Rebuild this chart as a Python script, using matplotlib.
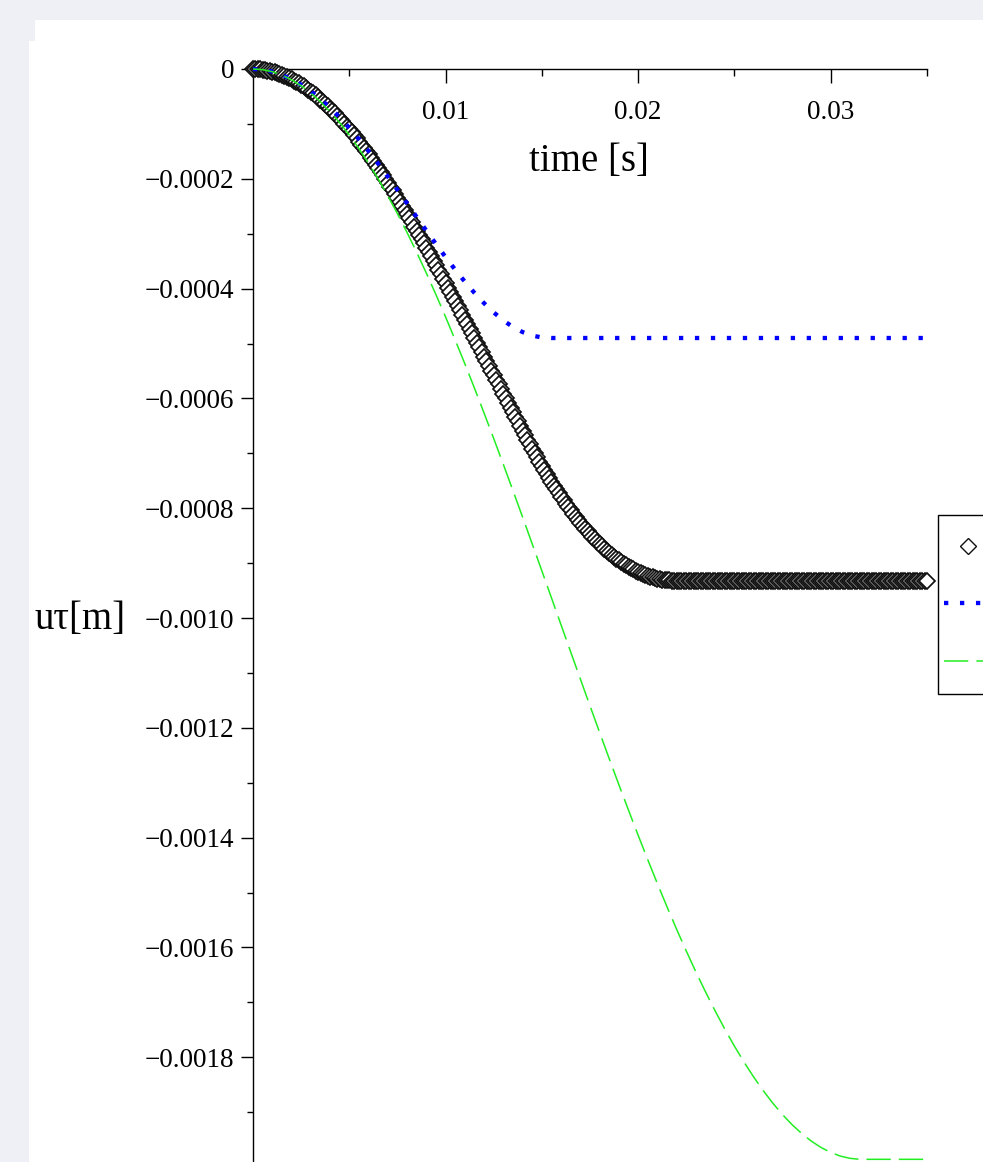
import numpy as np
import matplotlib
matplotlib.use("Agg")
import matplotlib.pyplot as plt
from matplotlib.patches import Rectangle
from matplotlib.lines import Line2D
from matplotlib.ticker import FixedLocator, FixedFormatter

plt.rcParams['font.family'] = ['Liberation Serif', 'DejaVu Serif']
plt.rcParams['lines.scale_dashes'] = False
plt.rcParams['axes.unicode_minus'] = True

# ---------------- data (displacement in micrometres) ----------------
black_dt = 0.000125   # s, sample step of the diamond series
black_um = [
    0, -0.1, -0.3, -0.7, -1.2, -1.9, -2.8, -3.7, -4.8, -6.1,
    -7.5, -9.0, -10.6, -12.4, -14.4, -16.4, -18.6, -21.0, -23.5, -26.1,
    -28.8, -31.7, -34.8, -37.9, -41.2, -44.6, -48.2, -51.8, -55.6, -59.5,
    -63.6, -67.7, -72.0, -76.4, -80.9, -85.5, -90.2, -95.0, -100.0, -105.0,
    -110.2, -115.5, -120.9, -126.5, -132.1, -137.8, -143.6, -149.6, -155.6, -161.8,
    -168.0, -174.4, -180.8, -187.3, -193.9, -200.6, -207.4, -214.3, -221.2, -228.2,
    -235.3, -242.5, -249.7, -257.0, -264.4, -271.8, -279.3, -286.9, -294.5, -302.2,
    -309.9, -317.7, -325.6, -333.5, -341.5, -349.5, -357.5, -365.6, -373.7, -381.8,
    -390.0, -398.2, -406.4, -414.7, -423.0, -431.3, -439.7, -448.0, -456.4, -464.8,
    -473.2, -481.6, -490.1, -498.5, -507.0, -515.4, -523.9, -532.3, -540.8, -549.2,
    -557.7, -566.1, -574.6, -583.0, -591.5, -599.9, -608.4, -616.8, -625.2, -633.6,
    -642.0, -650.3, -658.7, -667.0, -675.4, -683.6, -691.9, -699.7, -707.6, -715.2,
    -722.9, -730.3, -737.8, -744.9, -752.1, -759.0, -765.9, -772.5, -779.2, -785.5,
    -791.9, -798.0, -804.1, -809.9, -815.7, -821.2, -826.7, -831.9, -837.2, -842.2,
    -847.2, -851.9, -856.6, -861.0, -865.4, -869.5, -873.7, -877.5, -881.4, -884.9,
    -888.5, -891.8, -895.1, -898.1, -901.2, -903.9, -906.7, -909.1, -911.6, -913.8,
    -916.0, -917.9, -919.8, -921.4, -923.1, -924.5, -925.9, -927.0, -928.1, -929.0,
    -929.9, -930.5, -931.2, -931.6, -932.1, -932.3, -932.6, -932.7, -932.9, -932.9,
    -933.0,
    -933.0, -933.0, -933.0, -933.0, -933.0, -933.0, -933.0, -933.0, -933.0, -933.0,
    -933.0, -933.0, -933.0, -933.0, -933.0, -933.0, -933.0, -933.0, -933.0, -933.0,
    -933.0, -933.0, -933.0, -933.0, -933.0, -933.0, -933.0, -933.0, -933.0, -933.0,
    -933.0, -933.0, -933.0, -933.0, -933.0, -933.0, -933.0, -933.0, -933.0, -933.0,
    -933.0, -933.0, -933.0, -933.0, -933.0, -933.0, -933.0, -933.0, -933.0, -933.0,
    -933.0, -933.0, -933.0, -933.0, -933.0, -933.0, -933.0, -933.0, -933.0, -933.0,
    -933.0, -933.0, -933.0, -933.0, -933.0, -933.0, -933.0, -933.0, -933.0, -933.0,
    -933.0, -933.0, -933.0, -933.0, -933.0, -933.0, -933.0, -933.0, -933.0, -933.0,
    -933.0, -933.0, -933.0, -933.0, -933.0, -933.0, -933.0, -933.0, -933.0, -933.0,
    -933.0, -933.0, -933.0, -933.0, -933.0, -933.0, -933.0, -933.0, -933.0, -933.0,
]

blue_dt = 0.0005
blue_um = [
    0, -1.2, -4.8, -10.6, -18.6, -28.6, -40.6, -54.6, -70.4, -88.0,
    -107.2, -127.8, -149.6, -172.4, -196.0, -220.2, -244.8, -269.6, -294.4, -318.8,
    -342.6, -365.6, -387.4, -407.8, -426.6, -443.4, -458.0, -470.0, -479.2, -485.6,
    -489.0, -490.0,
    -490.0, -490.0, -490.0, -490.0, -490.0, -490.0, -490.0, -490.0, -490.0, -490.0,
    -490.0, -490.0, -490.0, -490.0, -490.0, -490.0, -490.0, -490.0, -490.0, -490.0,
    -490.0, -490.0, -490.0, -490.0, -490.0, -490.0, -490.0, -490.0, -490.0, -490.0,
    -490.0, -490.0, -490.0, -490.0, -490.0, -490.0, -490.0, -490.0, -490.0,
]

green_dt = 0.0005
green_um = [
    0, -1.2, -4.9, -11.0, -19.6, -30.5, -43.8, -59.5, -77.5, -97.7,
    -120.2, -144.8, -171.5, -200.2, -230.9, -263.5, -297.9, -334.0, -371.7, -411.0,
    -451.6, -493.7, -536.9, -581.3, -626.8, -673.1, -720.2, -768.0, -816.3, -865.1,
    -914.1, -963.4, -1012.8, -1062.1, -1111.2, -1160.1, -1208.5, -1256.4, -1303.7, -1350.1,
    -1395.7, -1440.3, -1483.8, -1526.1, -1567.1, -1606.6, -1644.7, -1681.1, -1715.8, -1748.8,
    -1779.8, -1809.0, -1836.1, -1861.1, -1884.0, -1904.7, -1923.1, -1939.2, -1953.0, -1964.5,
    -1973.5, -1980.1, -1984.2, -1986.0,
    -1986.0, -1986.0, -1986.0, -1986.0, -1986.0, -1986.0, -1986.0,
]

x_major = [0.01, 0.02, 0.03]
x_major_labels = ["0.01", "0.02", "0.03"]
x_minor = [0.005, 0.015, 0.025, 0.035]
y_major = [0, -0.0002, -0.0004, -0.0006, -0.0008, -0.0010, -0.0012, -0.0014, -0.0016, -0.0018]
y_major_labels = ["0", "\u22120.0002", "\u22120.0004", "\u22120.0006", "\u22120.0008",
                  "\u22120.0010", "\u22120.0012", "\u22120.0014", "\u22120.0016", "\u22120.0018"]
y_minor = [-0.0001, -0.0003, -0.0005, -0.0007, -0.0009, -0.0011, -0.0013, -0.0015,
           -0.0017, -0.0019]

# ---------------- styles ----------------
BLACK_STYLE = dict(linestyle="none", marker="D", markersize=7.9, markerfacecolor="white",
                   markeredgecolor="#111111", markeredgewidth=1.25)
BLUE_STYLE = dict(color="#0000ff", linewidth=3.1, linestyle=(0, (3.1, 8.4)),
                  dash_capstyle="butt")
GREEN_STYLE = dict(color="#22ee22", linewidth=1.1, linestyle=(0, (17.5, 5.8)))

# ---------------- figure ----------------
W, H = 983, 1162
fig = plt.figure(figsize=(W / 100, H / 100), dpi=100, facecolor="#eef0f5")
fig.add_artist(Rectangle((35 / W, 0), 1, (H - 20) / H, transform=fig.transFigure,
                         facecolor="white", edgecolor="none", zorder=0))
fig.add_artist(Rectangle((29 / W, 0), 1, (H - 41) / H, transform=fig.transFigure,
                         facecolor="white", edgecolor="none", zorder=0))

ax_left, ax_right, ax_top = 253, 927, 69
ax = fig.add_axes([ax_left / W, 0, (ax_right - ax_left) / W, (H - ax_top) / H])
ax.set_facecolor("none")

t_black = np.arange(len(black_um)) * black_dt
t_blue = np.arange(len(blue_um)) * blue_dt
t_green = np.arange(len(green_um)) * green_dt
u_black = np.array(black_um) * 1e-6
u_blue = np.array(blue_um) * 1e-6
u_green = np.array(green_um) * 1e-6

ax.plot(t_black, u_black, clip_on=False, zorder=3, **BLACK_STYLE)
ax.plot(t_blue, u_blue, clip_on=False, zorder=4, **BLUE_STYLE)
ax.plot(t_green, u_green, clip_on=False, zorder=5, **GREEN_STYLE)

ax.set_xlim(0, 0.035)
ax.set_ylim(-(H - ax_top) / 549000.0, 0)

for s in ("right", "bottom"):
    ax.spines[s].set_visible(False)
for s in ("top", "left"):
    ax.spines[s].set_linewidth(1.0)
    ax.spines[s].set_color("black")

ax.xaxis.set_ticks_position("top")
ax.xaxis.set_major_locator(FixedLocator(x_major))
ax.xaxis.set_major_formatter(FixedFormatter(x_major_labels))
ax.xaxis.set_minor_locator(FixedLocator(x_minor))
ax.yaxis.set_major_locator(FixedLocator(y_major))
ax.yaxis.set_major_formatter(FixedFormatter(y_major_labels))
ax.yaxis.set_minor_locator(FixedLocator(y_minor))

ax.tick_params(axis="x", which="major", direction="in", length=10, width=1,
               top=True, bottom=False, labeltop=True, labelbottom=False,
               pad=-40, labelsize=19.5)
ax.tick_params(axis="x", which="minor", direction="in", length=5, width=1,
               top=True, bottom=False)
ax.tick_params(axis="y", which="major", direction="out", length=8.5, width=1,
               left=True, right=False, pad=5.0, labelsize=19.5)
ax.tick_params(axis="y", which="minor", direction="out", length=4.3, width=1,
               left=True, right=False)

ax.set_xlabel("time [s]", fontsize=28)
ax.xaxis.set_label_coords((589 - ax_left) / (ax_right - ax_left),
                          1 - (162 - ax_top) / (H - ax_top))
ax.xaxis.label.set_verticalalignment("center")
ax.set_ylabel("uτ[m]", fontsize=28, rotation=0)
ax.yaxis.set_label_coords((80 - ax_left) / (ax_right - ax_left),
                          1 - (620 - ax_top) / (H - ax_top))
ax.yaxis.label.set_verticalalignment("center")
ax.yaxis.label.set_horizontalalignment("center")

# ---------------- legend key (its text lies beyond the right edge) ----------------
def fx(px):
    return px / W


def fy(py):
    return 1 - py / H


fig.add_artist(Rectangle((fx(938), fy(694)), 80 / W, 179 / H, transform=fig.transFigure,
                         facecolor="white", edgecolor="black", linewidth=1.0, zorder=10))
fig.add_artist(Line2D([fx(968)], [fy(546)], transform=fig.transFigure, zorder=11,
                      **dict(BLACK_STYLE, markeredgewidth=1.0)))
fig.add_artist(Line2D([fx(944), fx(992)], [fy(603), fy(603)], transform=fig.transFigure,
                      zorder=11, **BLUE_STYLE))
fig.add_artist(Line2D([fx(944), fx(992)], [fy(661), fy(661)], transform=fig.transFigure,
                      zorder=11, **GREEN_STYLE))

fig.savefig("out.png", dpi=100, facecolor=fig.get_facecolor())
